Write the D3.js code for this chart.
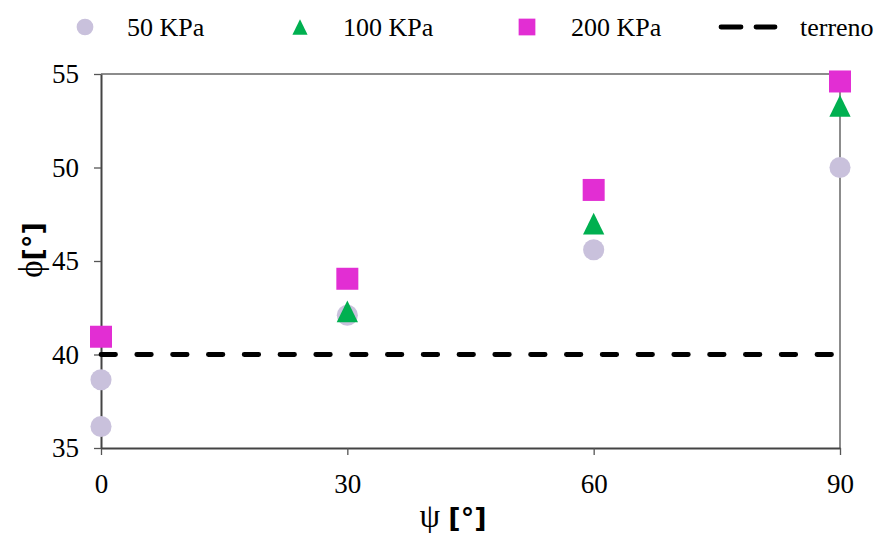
<!DOCTYPE html>
<html>
<head>
<meta charset="utf-8">
<title>phi vs psi</title>
<script src="https://d3js.org/d3.v7.min.js"></script>
<style>
  body { margin: 0; background: #fff; }
  svg text { font-family: "Liberation Serif", "Times New Roman", serif; fill: #000; }
</style>
</head>
<body>
<div id="chart"></div>
<script type="text/javascript">
// data
const psi = [0, 0, 30, 60, 90];
const phi50 = [36.15, 38.65, 42.1, 45.6, 50.0];
const psiHigh = [30, 60, 90];
const phi100 = [42.3, 47.0, 53.3];
const psi200 = [0, 30, 60, 90];
const phi200 = [40.95, 44.05, 48.8, 54.6];
const terrenoX = [0, 90];
const terrenoY = [40, 40];
const xTicks = [0, 30, 60, 90];
const yTicks = [35, 40, 45, 50, 55];

const width = 877, height = 533;
const margin = {left: 101, right: 37, top: 74, bottom: 85};
const serif = '"Liberation Serif", "Times New Roman", serif';

const svg = d3.select("#chart").append("svg")
  .attr("width", width)
  .attr("height", height);

const x = d3.scaleLinear().domain([0, 90]).range([margin.left, width - margin.right]);
const y = d3.scaleLinear().domain([35, 55]).range([height - margin.bottom, margin.top]);

// grey frame on top / right
svg.append("path")
  .attr("d", `M${x(0)},${y(55)}H${x(90)}V${y(35)}`)
  .attr("fill", "none")
  .attr("stroke", "#8c8c8c")
  .attr("stroke-width", 2);

const xAxis = svg.append("g")
  .attr("transform", `translate(0,${y(35)})`)
  .call(d3.axisBottom(x).tickValues(xTicks).tickSize(7).tickSizeOuter(0).tickPadding(19));
const yAxis = svg.append("g")
  .attr("transform", `translate(${x(0)},0)`)
  .call(d3.axisLeft(y).tickValues(yTicks).tickSize(7).tickSizeOuter(0).tickPadding(15));

[xAxis, yAxis].forEach(g => {
  g.select(".domain").attr("stroke", "#444").attr("stroke-width", 2);
  g.selectAll(".tick line").attr("stroke", "#555").attr("stroke-width", 1.3);
  g.selectAll(".tick text")
    .style("font-family", serif)
    .style("font-size", "27px")
    .attr("fill", "#000");
});

// terreno reference line
svg.append("path")
  .datum(terrenoX.map((d, i) => [d, terrenoY[i]]))
  .attr("d", d3.line().x(d => x(d[0])).y(d => y(d[1])))
  .attr("fill", "none")
  .attr("stroke", "#000")
  .attr("stroke-width", 4.8)
  .attr("stroke-dasharray", "14.5 21.3")
  .attr("stroke-linecap", "round");

const circleCol = "#c9c1dc", triCol = "#00b050", sqCol = "#e22ed3";
const sym = (type, size) => d3.symbol().type(type).size(size);

// excel-like triangle: box-centred, a bit taller than equilateral
const triangleTall = {
  draw(ctx, size) {
    const w = Math.sqrt(size), h = w * 1.02;
    ctx.moveTo(0, -h / 2);
    ctx.lineTo(w / 2, h / 2);
    ctx.lineTo(-w / 2, h / 2);
    ctx.closePath();
  }
};

svg.append("g").selectAll("path")
  .data(psi.map((d, i) => [d, phi50[i]]))
  .join("path")
  .attr("transform", d => `translate(${x(d[0])},${y(d[1])})`)
  .attr("d", sym(d3.symbolCircle, 350))
  .attr("fill", circleCol);

svg.append("g").selectAll("path")
  .data(psiHigh.map((d, i) => [d, phi100[i]]))
  .join("path")
  .attr("transform", d => `translate(${x(d[0])},${y(d[1])})`)
  .attr("d", sym(triangleTall, 454))
  .attr("fill", triCol);

svg.append("g").selectAll("path")
  .data(psi200.map((d, i) => [d, phi200[i]]))
  .join("path")
  .attr("transform", d => `translate(${x(d[0])},${y(d[1])})`)
  .attr("d", sym(d3.symbolSquare, 484))
  .attr("fill", sqCol);

// axis titles
const xt = svg.append("text")
  .attr("x", 453)
  .attr("y", 527)
  .attr("text-anchor", "middle");
xt.append("tspan").style("font-family", serif).style("font-size", "33px").text("ψ ");
xt.append("tspan").style("font-family", '"DejaVu Sans", sans-serif').style("font-weight", "bold").style("font-size", "27px").text("[°]");

const yt = svg.append("text")
  .attr("transform", "translate(42,250) rotate(-90)")
  .attr("text-anchor", "middle");
yt.append("tspan").style("font-family", serif).style("font-size", "33px").text("ϕ");
yt.append("tspan").style("font-family", '"DejaVu Sans", sans-serif').style("font-weight", "bold").style("font-size", "27px").text("[°]");

// legend
const legend = [
  {label: "50 KPa", kind: "circle", sx: 85, tx: 127},
  {label: "100 KPa", kind: "tri", sx: 300, tx: 343},
  {label: "200 KPa", kind: "sq", sx: 527, tx: 571},
  {label: "terreno", kind: "line", sx: 748, tx: 800}
];
const lg = svg.append("g").attr("transform", "translate(0,27)");
legend.forEach(l => {
  if (l.kind === "line") {
    lg.append("line")
      .attr("x1", l.sx - 27).attr("x2", l.sx + 27)
      .attr("stroke", "#000").attr("stroke-width", 4.8)
      .attr("stroke-dasharray", "20 15").attr("stroke-linecap", "round");
  } else {
    const t = l.kind === "circle" ? sym(d3.symbolCircle, 220)
      : l.kind === "tri" ? sym(triangleTall, 230) : sym(d3.symbolSquare, 280);
    lg.append("path")
      .attr("transform", `translate(${l.sx},0)`)
      .attr("d", t)
      .attr("fill", l.kind === "circle" ? circleCol : l.kind === "tri" ? triCol : sqCol);
  }
  lg.append("text")
    .attr("x", l.tx).attr("y", 9)
    .style("font-size", "26px")
    .text(l.label);
});
</script>
</body>
</html>
